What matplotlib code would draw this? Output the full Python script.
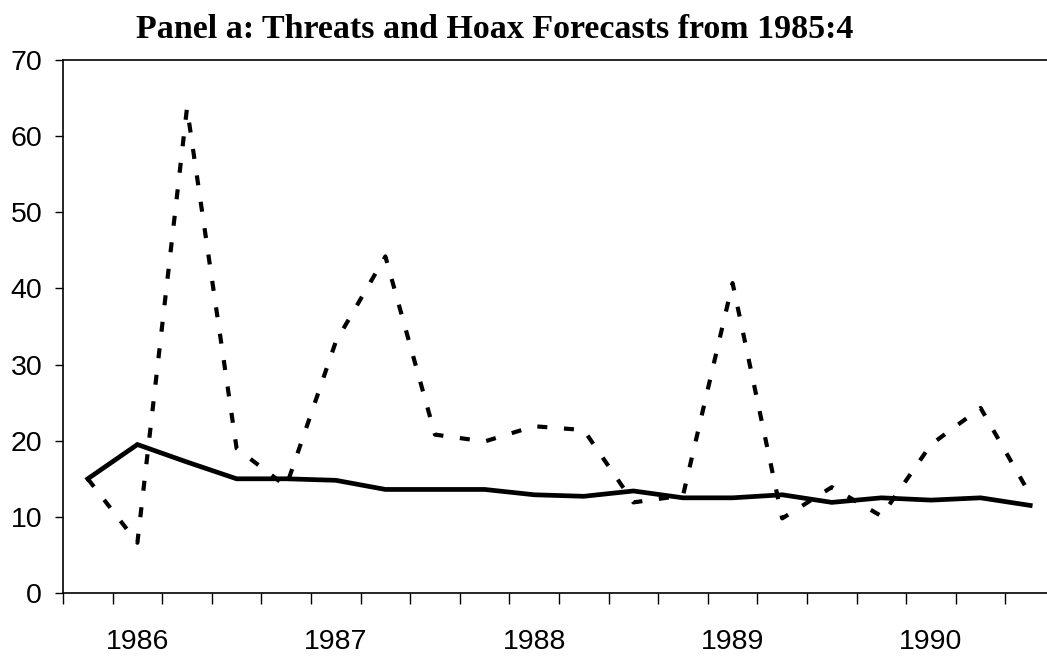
import matplotlib
matplotlib.use("Agg")
import matplotlib.pyplot as plt
import numpy as np

# quarters 1985:4 .. 1990:3
quarters = ["1985:4", "1986:1", "1986:2", "1986:3", "1986:4",
            "1987:1", "1987:2", "1987:3", "1987:4",
            "1988:1", "1988:2", "1988:3", "1988:4",
            "1989:1", "1989:2", "1989:3", "1989:4",
            "1990:1", "1990:2", "1990:3"]

# forecasts (solid) and actual (dashed)
forecast = [15.0, 19.5, 17.2, 15.0, 15.0, 14.8, 13.6, 13.6, 13.6, 12.9,
            12.7, 13.4, 12.5, 12.5, 12.9, 11.9, 12.5, 12.2, 12.5, 11.5]
actual = [15.0, 6.6, 63.7, 19.0, 14.0, 33.0, 44.2, 20.8, 19.9, 21.9,
          21.4, 11.9, 12.8, 40.7, 9.8, 13.9, 10.1, 19.5, 24.3, 12.9]

year_labels = ["1986", "1987", "1988", "1989", "1990"]
year_pos = [1, 5, 9, 13, 17]

fig = plt.figure(figsize=(10.47, 6.62), dpi=100)
ax = fig.add_axes([63/1047, 1 - 593/662, (1055 - 63)/1047, (593 - 60)/662])

x = np.arange(len(quarters))
ax.plot(x, actual, color="black", lw=3.0, linestyle=(0, (2.4, 4.0)),
        dash_capstyle="butt")
ax.plot(x, forecast, color="black", lw=3.4, solid_joinstyle="miter")

ax.set_xlim(-0.5, len(quarters) - 0.5)
ax.set_ylim(0, 70)
ax.set_yticks(np.arange(0, 71, 10))

# tick marks at category boundaries, year labels at category centres
ax.set_xticks(np.arange(-0.5, len(quarters) - 0.4, 1.0))
ax.set_xticklabels([])
ax.set_xticks(year_pos, minor=True)
ax.set_xticklabels(year_labels, minor=True)
ax.tick_params(axis="x", which="major", length=8, width=1, direction="out")
ax.tick_params(axis="x", which="minor", length=0, pad=26, labelsize=20.5)
ax.tick_params(axis="y", length=6, width=1, direction="out", pad=9, labelsize=20.5)

for lbl in ax.get_xticklabels(minor=True) + ax.get_yticklabels():
    lbl.set_fontfamily("Liberation Sans")

ax.spines["right"].set_visible(False)
for s in ["left", "bottom", "top"]:
    ax.spines[s].set_linewidth(1.2)

fig.text(495/1047, 1 - 30/662, "Panel a: Threats and Hoax Forecasts from 1985:4",
         ha="center", va="center", fontsize=24.5, fontweight="bold",
         family="Liberation Serif")

fig.savefig("out.png", dpi=100)
